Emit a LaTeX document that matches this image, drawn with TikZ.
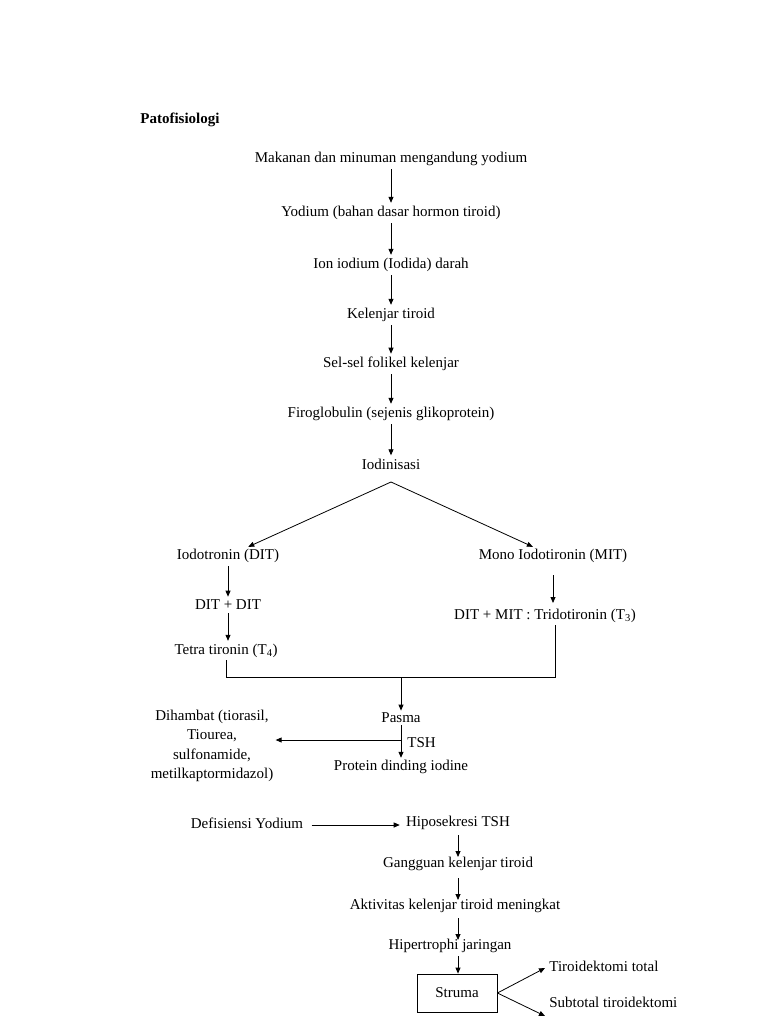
\documentclass[tikz,border=0pt]{standalone}
\usepackage{fontspec}
\setmainfont{Liberation Serif}
\usetikzlibrary{arrows.meta}
\begin{document}
\begin{tikzpicture}[x=1pt,y=-1pt,line width=0.8pt,
  >={Triangle[length=6pt,width=5pt]},
  every node/.style={font=\fontsize{15}{19}\selectfont,inner sep=2pt},
  flow/.style={->,shorten >=1pt,shorten <=1pt}]
\useasboundingbox (0,0) rectangle (768,1024);
\node [anchor=west,font=\fontsize{15}{19}\selectfont\bfseries] (judul) at (138,120) {Patofisiologi};
% alur utama
\node (makanan) at (391,159) {Makanan dan minuman mengandung yodium};
\node (yodium) at (391,213) {Yodium (bahan dasar hormon tiroid)};
\node (ion) at (391,265) {Ion iodium (Iodida) darah};
\node (kelenjar) at (391,315) {Kelenjar tiroid};
\node (sel) at (391,364) {Sel-sel folikel kelenjar};
\node (firo) at (391,414) {Firoglobulin (sejenis glikoprotein)};
\node (iodin) at (391,464) {Iodinisasi};
\draw [flow] (makanan) -- (yodium) ;
\draw [flow] (yodium) -- (ion) ;
\draw [flow] (ion) -- (kelenjar) ;
\draw [flow] (kelenjar) -- (sel) ;
\draw [flow] (sel) -- (firo) ;
\draw [flow] (firo) -- (iodin) ;
% cabang
\coordinate (puncak) at (391,482) ;
\node (dit) at (228,556) {Iodotronin (DIT)};
\node (mit) at (553,556) {Mono Iodotironin (MIT)};
\draw [->] (puncak) -- (dit) ;
\draw [->] (puncak) -- (mit) ;
\node (ditdit) at (228,605) {DIT + DIT};
\node (tetra) at (226,651) {Tetra tironin (T\textsubscript{4})};
\node (tri) at (545,616) {DIT + MIT : Tridotironin (T\textsubscript{3})};
\draw [flow] (dit) -- (ditdit) ;
\draw [flow] (ditdit) -- (ditdit |- tetra.north) ;
\draw [->] (553,575) -- (553,603) ;
\coordinate (gabkiri) at (226,677) ;
\coordinate (gabkanan) at (555,677) ;
\coordinate (gabtengah) at (401,677) ;
\draw (tetra.south) -- (gabkiri) -- (gabkanan) -- (tri.south -| gabkanan) ;
% pasma
\node (pasma) at (401,718) {Pasma};
\node (protein) at (401,767) {Protein dinding iodine};
\node [align=center,font=\fontsize{15}{19.5}\selectfont] (dihambat) at (212,746) {Dihambat (tiorasil,\\Tiourea,\\sulfonamide,\\metilkaptormidazol)};
\draw [->] (gabtengah) -- (pasma) ;
\draw [->] (pasma) -- (protein) ;
\coordinate (cabangtsh) at (401,740) ;
\draw [->] (cabangtsh) -- (dihambat.east |- cabangtsh) ;
\node [anchor=west] (tsh) at (405,743) {TSH};
% defisiensi
\node (defisiensi) at (247,823) {Defisiensi Yodium};
\node (hipo) at (458,823) {Hiposekresi TSH};
\node (gangguan) at (458,864) {Gangguan kelenjar tiroid};
\node (aktivitas) at (455,906) {Aktivitas kelenjar tiroid meningkat};
\node (hiper) at (450,946) {Hipertrophi jaringan};
\node [draw,minimum width=80,minimum height=38] (struma) at (457,993) {Struma};
\draw [->,shorten <=6pt,shorten >=4pt] (defisiensi.east |- 0,825) -- (hipo.west |- 0,825) ;
\draw [->] (458,835) -- (458,857) ;
\draw [->] (458,878) -- (458,900) ;
\draw [->] (458,918) -- (458,940) ;
\draw [->] (458,956) -- (struma.north -| 458,0) ;
% tindakan
\node [anchor=west] (total) at (547,966) {Tiroidektomi total};
\node [anchor=west] (subtotal) at (547,1002) {Subtotal tiroidektomi};
\coordinate (ujungtotal) at (545,968) ;
\coordinate (ujungsub) at (545,1016) ;
\draw [->] (struma.east) -- (ujungtotal) ;
\draw [->] (struma.east) -- (ujungsub) ;
\end{tikzpicture}
\end{document}
